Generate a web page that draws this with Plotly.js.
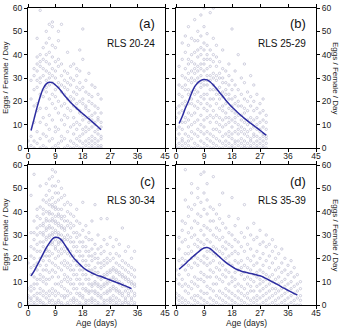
<!DOCTYPE html>
<html>
<head>
<meta charset="utf-8">
<script src="https://cdn.plot.ly/plotly-3.0.1.min.js"></script>
<style>
  html, body { margin: 0; padding: 0; background: #fff; }
  #chart { width: 341px; height: 328px; }
</style>
</head>
<body>
<div id="chart"></div>
<script>
// Daily egg counts per female, grouped by age (days); index = age in days
const eggsA = [
  [0, 3],
  [1, 5, 21, 29],
  [0, 3, 11, 18, 25, 31, 34],
  [2, 7, 16, 19, 26, 29, 33, 36, 39, 47],
  [0, 4, 11, 17, 23, 28, 30, 35, 37, 40, 59],
  [1, 6, 13, 22, 25, 31, 34, 38, 43],
  [0, 5, 10, 17, 24, 26, 29, 33, 37, 40, 45, 50],
  [3, 8, 14, 21, 27, 30, 32, 36, 41, 47, 53],
  [0, 4, 12, 19, 23, 28, 31, 34, 39, 44, 52, 54],
  [1, 7, 9, 17, 22, 25, 30, 33, 37, 43],
  [0, 2, 8, 15, 20, 26, 28, 35, 38, 46, 50],
  [3, 5, 12, 18, 24, 27, 31, 36, 53],
  [0, 4, 10, 14, 19, 23, 26, 29, 33],
  [1, 7, 13, 17, 21, 25, 28, 32, 41],
  [0, 3, 9, 16, 20, 22, 27, 30, 35],
  [0, 2, 6, 10, 13, 18, 21, 24, 29, 36],
  [1, 4, 8, 11, 17, 19, 23, 26, 31, 34],
  [0, 3, 5, 10, 15, 16, 20, 25, 28, 33, 42],
  [0, 2, 6, 8, 12, 14, 19, 21, 26, 38, 51],
  [1, 3, 7, 9, 13, 17, 18, 24, 29],
  [0, 2, 4, 8, 11, 13, 16, 20, 23, 32],
  [0, 1, 3, 5, 9, 12, 14, 19, 22, 27],
  [0, 2, 4, 7, 10, 11, 15, 18, 26],
  [0, 1, 3, 6, 8, 12, 13, 17, 23],
  [0, 1, 4, 5, 9, 11, 15, 21]
];
const eggsB = [
  [0, 1, 4, 8, 13, 17],
  [0, 2, 6, 9, 15, 18, 23, 27, 35],
  [1, 3, 4, 8, 11, 16, 19, 22, 26, 31, 38, 45],
  [0, 2, 6, 11, 13, 18, 20, 25, 27, 30, 34, 41, 48],
  [1, 3, 5, 9, 12, 15, 19, 23, 25, 29, 32, 36, 38, 44, 52],
  [0, 4, 7, 10, 14, 19, 21, 24, 28, 30, 33, 37, 40, 47],
  [0, 2, 6, 11, 15, 18, 23, 25, 29, 32, 34, 36, 41, 46, 55],
  [1, 5, 8, 12, 17, 20, 24, 28, 30, 33, 35, 39, 42, 46, 50],
  [0, 3, 7, 10, 14, 19, 22, 26, 28, 31, 34, 36, 40, 43, 48, 57],
  [0, 2, 6, 9, 12, 17, 21, 23, 27, 29, 33, 36, 38, 42, 45, 52, 60],
  [1, 4, 7, 13, 16, 19, 23, 27, 29, 31, 34, 38, 40, 44, 49],
  [0, 3, 6, 11, 14, 18, 21, 25, 29, 31, 35, 38, 42, 58],
  [0, 2, 5, 8, 13, 16, 21, 25, 27, 30, 32, 37, 40, 47, 60],
  [1, 4, 8, 11, 14, 19, 23, 25, 29, 31, 35, 39, 44],
  [0, 3, 7, 10, 13, 17, 21, 23, 26, 30, 32, 37],
  [0, 2, 5, 9, 12, 16, 18, 22, 24, 28, 30, 34, 42],
  [1, 3, 6, 10, 13, 15, 19, 23, 25, 28, 33],
  [0, 2, 5, 7, 11, 13, 17, 21, 23, 27, 31, 36],
  [0, 1, 4, 6, 9, 12, 16, 18, 21, 25, 29, 51],
  [0, 2, 3, 7, 11, 13, 15, 19, 22, 27, 33],
  [1, 3, 6, 8, 10, 14, 18, 20, 25, 40],
  [0, 2, 4, 7, 9, 12, 14, 18, 23, 30],
  [0, 1, 3, 6, 8, 11, 15, 17, 21, 28, 36],
  [0, 2, 5, 7, 10, 12, 16, 20, 24],
  [0, 1, 3, 4, 8, 11, 13, 18, 22, 31],
  [0, 2, 5, 6, 9, 12, 16, 20, 27],
  [0, 1, 3, 5, 8, 10, 13, 17, 23],
  [0, 2, 4, 7, 8, 11, 15, 19],
  [0, 1, 3, 5, 6, 9, 12, 16, 21],
  [0, 2, 4, 5, 8, 11, 14]
];
const eggsC = [
  [0, 1, 3, 4, 7, 18],
  [0, 2, 3, 6, 8, 13, 16, 21, 25, 31, 47],
  [0, 1, 4, 7, 9, 12, 17, 20, 24, 28, 31, 36, 56],
  [0, 2, 3, 5, 9, 11, 15, 18, 23, 26, 30, 33, 38, 41],
  [1, 2, 5, 7, 11, 13, 17, 20, 23, 27, 31, 34, 37, 42, 51],
  [0, 1, 4, 6, 10, 12, 15, 19, 21, 25, 27, 30, 31, 34, 35, 39, 41, 45],
  [0, 3, 5, 9, 11, 15, 17, 21, 23, 24, 28, 29, 32, 33, 36, 37, 40, 44, 47, 52],
  [1, 2, 4, 6, 11, 14, 19, 21, 23, 26, 29, 30, 33, 34, 36, 39, 40, 43, 45, 49, 54],
  [0, 2, 5, 7, 12, 15, 18, 22, 26, 27, 30, 31, 33, 36, 37, 39, 42, 43, 46, 51, 55, 58],
  [0, 1, 4, 6, 9, 14, 17, 20, 24, 25, 28, 31, 32, 35, 36, 38, 41, 42, 44, 48, 51, 57],
  [1, 2, 5, 9, 12, 16, 21, 23, 26, 27, 30, 31, 34, 35, 38, 39, 41, 45, 48, 53],
  [0, 1, 4, 8, 10, 15, 18, 22, 24, 27, 28, 30, 33, 34, 37, 38, 41, 46, 50],
  [0, 3, 4, 7, 11, 13, 17, 19, 23, 25, 28, 29, 32, 33, 36, 38, 43, 47],
  [0, 1, 4, 6, 10, 12, 16, 18, 22, 24, 28, 30, 34, 36, 40, 44],
  [0, 2, 5, 9, 11, 15, 17, 21, 23, 27, 29, 33, 35, 39, 43],
  [1, 2, 3, 7, 9, 13, 15, 19, 21, 25, 27, 31, 34, 38],
  [0, 2, 5, 7, 11, 13, 17, 19, 23, 25, 29, 31, 36, 41],
  [0, 1, 4, 5, 9, 11, 15, 17, 21, 23, 27, 30, 35],
  [0, 3, 4, 7, 9, 13, 15, 19, 21, 25, 27, 32, 44],
  [0, 1, 2, 6, 7, 11, 13, 17, 19, 23, 25, 29, 34],
  [0, 2, 5, 6, 9, 11, 15, 17, 21, 23, 28, 31],
  [1, 2, 3, 6, 8, 9, 13, 15, 19, 21, 24, 28, 36],
  [0, 2, 5, 6, 9, 10, 14, 16, 20, 22, 26, 43],
  [0, 1, 4, 5, 8, 9, 12, 14, 18, 20, 24, 30],
  [0, 3, 4, 7, 8, 11, 12, 16, 18, 22, 25, 37],
  [0, 1, 2, 5, 8, 9, 12, 13, 17, 19, 23, 28],
  [0, 2, 5, 6, 9, 10, 13, 14, 18, 20, 26, 37],
  [1, 2, 3, 6, 7, 10, 11, 14, 15, 19, 22, 29],
  [0, 2, 4, 7, 8, 11, 12, 15, 16, 20, 25],
  [0, 1, 3, 6, 7, 10, 11, 14, 15, 18, 22, 28],
  [0, 2, 5, 6, 9, 10, 13, 14, 17, 21, 26],
  [0, 1, 4, 5, 8, 9, 12, 13, 16, 19, 33],
  [1, 2, 3, 6, 8, 11, 12, 15, 18, 23],
  [0, 1, 4, 5, 7, 10, 11, 14, 17, 25],
  [0, 2, 3, 6, 9, 10, 13, 16, 20],
  [0, 1, 4, 5, 8, 9, 12, 15, 23]
];
const eggsD = [
  [0, 3, 5, 11, 15],
  [0, 2, 4, 9, 13, 19, 24, 29],
  [1, 3, 8, 11, 17, 20, 27, 32, 36],
  [0, 2, 6, 9, 15, 19, 22, 28, 35, 45, 58],
  [1, 5, 8, 13, 17, 22, 25, 31, 38, 42],
  [0, 3, 7, 10, 16, 20, 23, 29, 33, 41, 48, 52],
  [0, 2, 4, 9, 12, 18, 21, 26, 30, 36, 43],
  [1, 4, 8, 11, 17, 20, 25, 28, 35, 39, 46, 50],
  [0, 3, 6, 11, 14, 19, 24, 27, 32, 38, 44, 56],
  [0, 2, 5, 10, 13, 18, 21, 26, 30, 34, 41, 48, 57],
  [1, 5, 8, 12, 17, 20, 23, 28, 33, 39, 45, 52],
  [0, 3, 7, 12, 15, 18, 23, 27, 32, 36, 42],
  [0, 2, 6, 9, 14, 19, 22, 25, 30, 36, 41, 55],
  [1, 4, 9, 12, 16, 21, 24, 29, 33, 39],
  [0, 3, 6, 11, 15, 18, 23, 28, 32, 37, 43],
  [0, 2, 5, 10, 13, 17, 22, 25, 29, 35, 48],
  [1, 4, 7, 12, 15, 20, 24, 27, 33],
  [0, 3, 6, 9, 14, 18, 21, 26, 31, 38],
  [0, 2, 5, 10, 12, 17, 22, 25, 30, 46],
  [1, 4, 8, 11, 14, 19, 23, 28, 34],
  [0, 3, 6, 9, 15, 18, 22, 27, 37],
  [0, 2, 5, 8, 13, 16, 19, 25, 31],
  [1, 4, 7, 11, 14, 17, 23, 29, 43],
  [0, 3, 5, 9, 12, 16, 20, 26, 33],
  [0, 2, 6, 8, 11, 15, 19, 24, 30],
  [1, 3, 6, 10, 13, 17, 21, 28, 35],
  [0, 2, 4, 8, 12, 14, 18, 23, 29],
  [0, 3, 6, 9, 11, 15, 20, 26, 32],
  [1, 4, 7, 10, 14, 17, 22, 27],
  [0, 2, 5, 8, 11, 13, 19, 25, 30],
  [0, 3, 6, 9, 12, 16, 21, 26],
  [1, 4, 7, 10, 13, 18, 23, 28],
  [0, 2, 5, 7, 11, 15, 20, 25],
  [0, 3, 6, 9, 12, 16, 22],
  [1, 4, 7, 10, 14, 18, 24],
  [0, 2, 5, 8, 11, 15, 20],
  [0, 3, 6, 9, 13, 17],
  [1, 4, 7, 10, 14, 19],
  [0, 2, 5, 8, 12, 16],
  [0, 3, 6, 9, 13],
  [0, 2, 4, 7, 10]
];

// Smoothed mean fecundity curves (age in days, eggs/female/day)
const fitAgeA = [1,2,3,4,5,6,7,8,9,10,11,12,13,14,15,16,17,18,19,20,21,22,23,24];
const fitA = [7.5,12.5,17.5,22,25.5,27.5,28.2,28,27,25.8,24.2,22.5,21,19.5,18.2,17,15.8,14.7,13.6,12.5,11.3,10.2,9,7.8];
const fitAgeB = [1,2,3,4,5,6,7,8,9,10,11,12,13,14,15,16,17,18,19,20,21,22,23,24,25,26,27,28,29];
const fitB = [10.5,13.5,17,20,23.5,26.3,28,29,29.4,29.2,28.3,27,25.5,23.8,22.2,20.5,19,17.6,16.3,15,13.8,12.7,11.6,10.6,9.6,8.6,7.6,6.5,5.5];
const fitAgeC = [1,2,3,4,5,6,7,8,9,10,11,12,13,14,15,16,17,18,19,20,21,22,23,24,25,26,27,28,29,30,31,32,33,34];
const fitC = [12.5,14.5,17,19.5,22,24.5,26.5,28.3,29,28.8,27.8,26,24,22,20.2,18.8,17.4,16.2,15.2,14.4,13.7,13.1,12.6,12.2,11.7,11.2,10.7,10.2,9.7,9.2,8.7,8.2,7.6,7.0];
const fitAgeD = [1,2,3,4,5,6,7,8,9,10,11,12,13,14,15,16,17,18,19,20,21,22,23,24,25,26,27,28,29,30,31,32,33,34,35,36,37,38,39];
const fitD = [15.3,16.5,17.7,19,20.2,21.4,22.5,23.6,24.4,24.6,24.1,23,21.8,20.6,19.4,18.3,17.3,16.4,15.6,15,14.5,14.1,13.8,13.5,13.2,12.9,12.5,12,11.3,10.6,9.9,9.2,8.5,7.7,7,6.3,5.6,4.9,4.3];

const panelLabels = ['(a)', '(b)', '(c)', '(d)'];
const groupLabels = ['RLS 20-24', 'RLS 25-29', 'RLS 30-34', 'RLS 35-39'];
const xTicks = [0, 9, 18, 27, 36, 45];
const yTicks = [0, 10, 20, 30, 40, 50, 60];

const W = 341, H = 328;
const px = v => v / W;
const py = v => 1 - v / H;

const FONT = 'Liberation Sans, Arial, sans-serif';
const dotColor = '#c3c3d5';
const lineColor = '#2c2ca0';

const panels = [
  { cols: eggsA, fx: fitAgeA, fy: fitA, xa: 'x',  ya: 'y'  },
  { cols: eggsB, fx: fitAgeB, fy: fitB, xa: 'x2', ya: 'y2' },
  { cols: eggsC, fx: fitAgeC, fy: fitC, xa: 'x3', ya: 'y3' },
  { cols: eggsD, fx: fitAgeD, fy: fitD, xa: 'x4', ya: 'y4' }
];

const traces = [];
panels.forEach(p => {
  const xs = [], ys = [];
  p.cols.forEach((vals, age) => vals.forEach(v => { xs.push(age); ys.push(v); }));
  traces.push({
    type: 'scatter', mode: 'markers', x: xs, y: ys, xaxis: p.xa, yaxis: p.ya,
    marker: { symbol: 'circle-open', size: 2.4, color: dotColor, line: { width: 0.8, color: dotColor } },
    hoverinfo: 'skip', showlegend: false
  });
  traces.push({
    type: 'scatter', mode: 'lines', x: p.fx, y: p.fy, xaxis: p.xa, yaxis: p.ya,
    line: { color: lineColor, width: 1.5, shape: 'spline', smoothing: 1 },
    hoverinfo: 'skip', showlegend: false
  });
});

const colX = [[28, 165], [176, 316]];
const rowY = [[8, 148], [165, 305]];

function xAxis(col, row) {
  return {
    domain: [px(colX[col][0]), px(colX[col][1])],
    anchor: 'y' + (row * 2 + col === 0 ? '' : row * 2 + col + 1),
    range: [0, 45], tickvals: xTicks, ticktext: xTicks.map(String),
    showline: true, linecolor: '#000', linewidth: 1, mirror: 'ticks',
    ticks: 'outside', ticklen: 3, tickcolor: '#000', tickwidth: 1,
    ticklabelstandoff: -3,
    showgrid: false, zeroline: false,
    tickfont: { family: FONT, size: 8.5, color: '#222' }
  };
}
function yAxis(col, row) {
  return {
    domain: [py(rowY[row][1]), py(rowY[row][0])],
    anchor: 'x' + (row * 2 + col === 0 ? '' : row * 2 + col + 1),
    side: col === 0 ? 'left' : 'right',
    range: [0, 60], tickvals: yTicks, ticktext: yTicks.map(String),
    showline: true, linecolor: '#000', linewidth: 1, mirror: 'ticks',
    ticks: 'outside', ticklen: 3, tickcolor: '#000', tickwidth: 1,
    showgrid: false, zeroline: false,
    tickfont: { family: FONT, size: 8.5, color: '#222' }
  };
}

const annotations = [];
panels.forEach((p, i) => {
  const col = i % 2, row = Math.floor(i / 2);
  const right = colX[col][1] - 8;
  annotations.push({
    xref: 'paper', yref: 'paper', x: px(right), y: py(rowY[row][0] + 16),
    text: panelLabels[i], showarrow: false, xanchor: 'right', yanchor: 'middle',
    font: { family: FONT, size: 13, color: '#111' }
  });
  annotations.push({
    xref: 'paper', yref: 'paper', x: px(right), y: py(rowY[row][0] + 35),
    text: groupLabels[i], showarrow: false, xanchor: 'right', yanchor: 'middle',
    font: { family: FONT, size: 10, color: '#111' }
  });
});
// Shared axis titles
[0, 1].forEach(row => {
  const cy = py((rowY[row][0] + rowY[row][1]) / 2);
  annotations.push({
    xref: 'paper', yref: 'paper', x: px(5), y: cy, text: 'Eggs / Female / Day',
    textangle: -90, showarrow: false, xanchor: 'center', yanchor: 'middle',
    font: { family: FONT, size: 8, color: '#222' }
  });
  annotations.push({
    xref: 'paper', yref: 'paper', x: px(336), y: cy, text: 'Eggs / Female / Day',
    textangle: 90, showarrow: false, xanchor: 'center', yanchor: 'middle',
    font: { family: FONT, size: 8, color: '#222' }
  });
});
[0, 1].forEach(col => {
  annotations.push({
    xref: 'paper', yref: 'paper', x: px((colX[col][0] + colX[col][1]) / 2), y: 0,
    text: 'Age (days)', showarrow: false, xanchor: 'center', yanchor: 'bottom',
    borderpad: 0, yshift: -1, font: { family: FONT, size: 8.5, color: '#222' }
  });
});

const layout = {
  width: W, height: H,
  margin: { l: 0, r: 0, t: 0, b: 0 },
  paper_bgcolor: '#fff', plot_bgcolor: '#fff',
  showlegend: false,
  xaxis: xAxis(0, 0), yaxis: yAxis(0, 0),
  xaxis2: xAxis(1, 0), yaxis2: yAxis(1, 0),
  xaxis3: xAxis(0, 1), yaxis3: yAxis(0, 1),
  xaxis4: xAxis(1, 1), yaxis4: yAxis(1, 1),
  annotations: annotations
};

Plotly.newPlot('chart', traces, layout, { staticPlot: true, displayModeBar: false });
</script>
</body>
</html>
